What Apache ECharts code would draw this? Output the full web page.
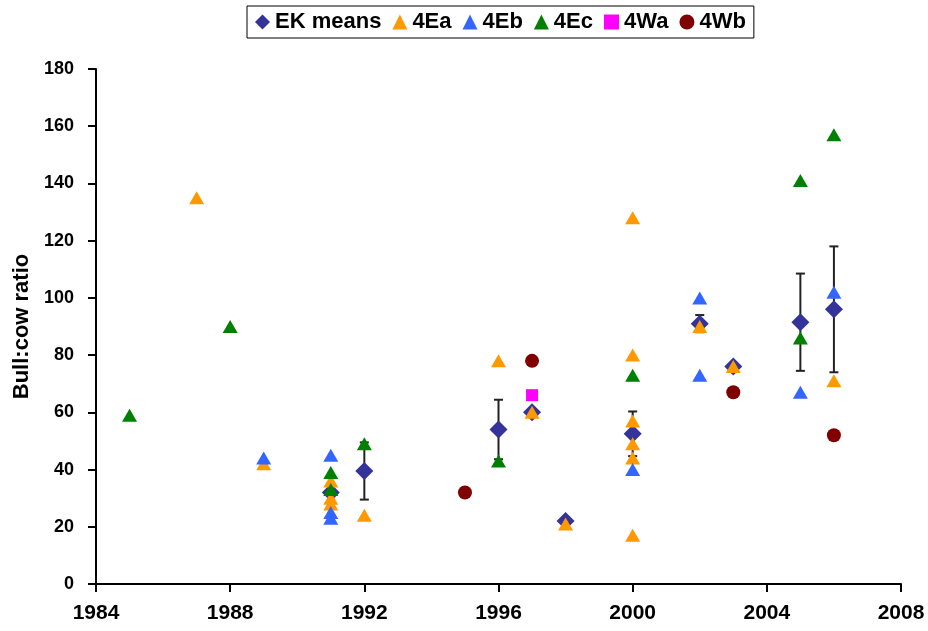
<!DOCTYPE html>
<html>
<head>
<meta charset="utf-8">
<script src="https://cdn.jsdelivr.net/npm/echarts@6/dist/echarts.min.js"></script>
<style>
  html, body { margin: 0; padding: 0; background: #fff; }
  #main { width: 928px; height: 631px; }
</style>
</head>
<body>
<div id="main"></div>
<script>
// values
const ekYears = [1991, 1992, 1996, 1997, 1998, 2000, 2002, 2003, 2005, 2006];
const ekMeans = [32, 39.5, 54, 60, 22, 52.5, 91, 76, 91.5, 96];
const ekErr   = [0, 10, 10.4, 0, 0, 7.8, 3, 0, 17, 22];

const e4aYears = [1987, 1989, 1991, 1991, 1991, 1992, 1996, 1997, 1998, 2000, 2000, 2000, 2000, 2000, 2000, 2002, 2003, 2006];
const e4aVals  = [135, 42, 36, 30, 28, 24, 78, 60, 21, 128, 80, 57, 49, 44, 17, 90, 76, 71];

const e4bYears = [1989, 1991, 1991, 1991, 2000, 2002, 2002, 2005, 2006];
const e4bVals  = [44, 45, 25, 23, 40, 100, 73, 67, 102];

const e4cYears = [1985, 1988, 1991, 1991, 1992, 1996, 2000, 2005, 2005, 2006];
const e4cVals  = [59, 90, 39, 33, 49, 43, 73, 141, 86, 157];

const w4aYears = [1997];
const w4aVals  = [66];

const w4bYears = [1995, 1997, 2003, 2006];
const w4bVals  = [32, 78, 67, 52];

const xTicks = { min: 1984, max: 2008, step: 4 };
const yTicks = { min: 0, max: 180, step: 20 };

function pairs(xs, ys) { return xs.map((x, i) => [x, ys[i]]); }

const errData = ekYears.map((x, i) => [x, ekMeans[i], ekErr[i]]).filter(d => d[2] > 0);

const FONT = '"Liberation Sans", Arial, sans-serif';

const chart = echarts.init(document.getElementById('main'), null, { renderer: 'canvas' });

function scatter(name, data, symbol, size, color) {
  return {
    name: name,
    type: 'scatter',
    data: data,
    symbol: symbol,
    symbolSize: size,
    itemStyle: { color: color, opacity: 1 },
    emphasis: { disabled: true },
    animation: false
  };
}

chart.setOption({
  backgroundColor: '#fff',
  animation: false,
  grid: { left: 96, right: 27, top: 69, bottom: 47 },
  legend: {
    left: 247,
    top: 6,
    padding: [5, 8, 5, 8],
    borderColor: '#000',
    borderWidth: 1,
    itemWidth: 15,
    itemHeight: 15,
    itemGap: 11,
    textStyle: { fontFamily: FONT, fontWeight: 'bold', fontSize: 22, color: '#000' },
    data: [
      { name: 'EK means', icon: 'diamond' },
      { name: '4Ea', icon: 'triangle' },
      { name: '4Eb', icon: 'triangle' },
      { name: '4Ec', icon: 'triangle' },
      { name: '4Wa', icon: 'rect' },
      { name: '4Wb', icon: 'circle' }
    ]
  },
  xAxis: {
    type: 'value',
    min: xTicks.min,
    max: xTicks.max,
    interval: xTicks.step,
    splitLine: { show: false },
    axisLine: { show: true, onZero: false, lineStyle: { color: '#000', width: 2 } },
    axisTick: { show: true, length: 8, lineStyle: { color: '#000', width: 2 } },
    axisLabel: {
      margin: 19,
      fontFamily: FONT, fontWeight: 'bold', fontSize: 21, color: '#000',
      formatter: v => String(v)
    }
  },
  yAxis: {
    type: 'value',
    min: yTicks.min,
    max: yTicks.max,
    interval: yTicks.step,
    name: 'Bull:cow ratio',
    nameLocation: 'middle',
    nameGap: 63,
    nameTextStyle: { fontFamily: FONT, fontWeight: 'bold', fontSize: 22, color: '#000' },
    splitLine: { show: false },
    axisLine: { show: true, lineStyle: { color: '#000', width: 2 } },
    axisTick: { show: true, length: 8, lineStyle: { color: '#000', width: 2 } },
    axisLabel: {
      margin: 22,
      fontFamily: FONT, fontWeight: 'bold', fontSize: 18, color: '#000'
    }
  },
  series: [
    {
      name: 'err',
      type: 'custom',
      data: errData,
      silent: true,
      renderItem: function (params, api) {
        const x = api.value(0), m = api.value(1), e = api.value(2);
        const hi = api.coord([x, m + e]);
        const lo = api.coord([x, m - e]);
        const w = 4.5;
        const style = { stroke: '#222', lineWidth: 2 };
        return {
          type: 'group',
          children: [
            { type: 'line', shape: { x1: hi[0], y1: hi[1], x2: lo[0], y2: lo[1] }, style: style },
            { type: 'line', shape: { x1: hi[0] - w, y1: hi[1], x2: hi[0] + w, y2: hi[1] }, style: style },
            { type: 'line', shape: { x1: lo[0] - w, y1: lo[1], x2: lo[0] + w, y2: lo[1] }, style: style }
          ]
        };
      }
    },
    scatter('EK means', pairs(ekYears, ekMeans), 'diamond', [18, 18], '#333399'),
    scatter('4Ea', pairs(e4aYears, e4aVals), 'triangle', [15, 13], '#FF9900'),
    scatter('4Eb', pairs(e4bYears, e4bVals), 'triangle', [15, 13], '#3366FF'),
    scatter('4Ec', pairs(e4cYears, e4cVals), 'triangle', [15, 13], '#008000'),
    scatter('4Wa', pairs(w4aYears, w4aVals), 'rect', [12, 12], '#FF00FF'),
    scatter('4Wb', pairs(w4bYears, w4bVals), 'circle', 14, '#800000')
  ]
});
</script>
</body>
</html>
